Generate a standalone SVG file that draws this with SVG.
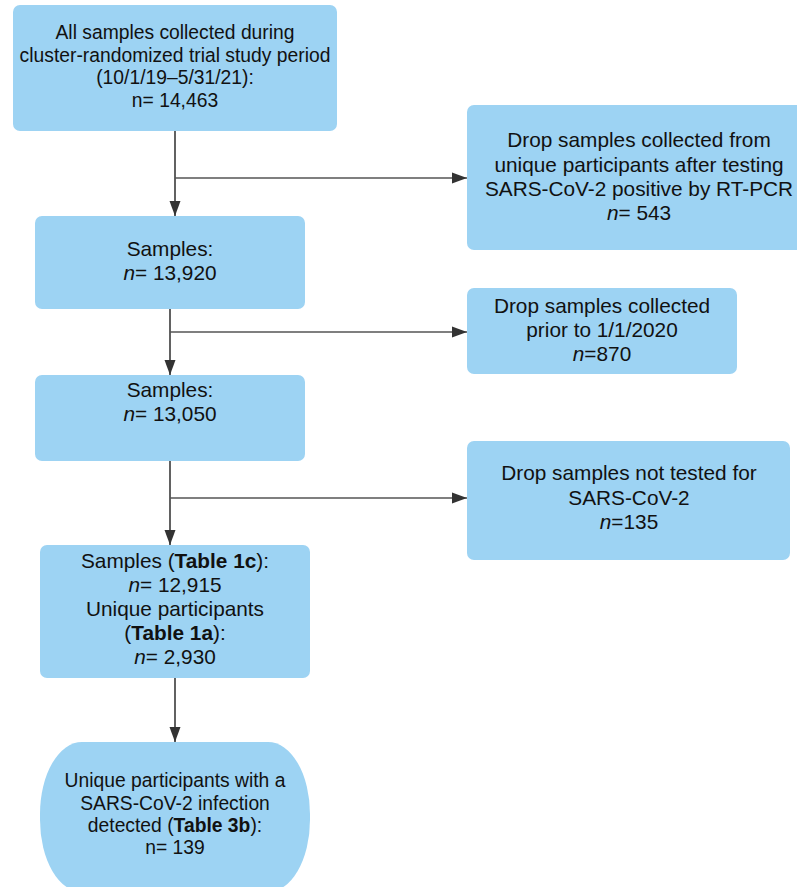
<svg xmlns="http://www.w3.org/2000/svg" width="797" height="887" viewBox="0 0 797 887">
<style>
.box{fill:#9dd3f3;stroke:none}
.t{font-family:"Liberation Sans",Arial,sans-serif;font-size:20.8px;fill:#111;text-anchor:middle}
.s{font-size:19.3px}
.c{fill:none;stroke:#3a3a3a;stroke-width:1.6}
.h{fill:none;stroke:#555;stroke-width:1.3}
</style>
<defs>
<marker id="ah" markerUnits="userSpaceOnUse" markerWidth="16" markerHeight="12" refX="15" refY="6" orient="auto">
<path d="M0,0.5 L15,6 L0,11.5 z" fill="#333"/>
</marker>
</defs>
<rect width="797" height="887" fill="#fff"/>
<g id="connectors">
<line class="c" x1="175" y1="131" x2="175" y2="216" marker-end="url(#ah)"/>
<line class="h" x1="175" y1="178" x2="467" y2="178" marker-end="url(#ah)"/>
<line class="c" x1="170" y1="309" x2="170" y2="375" marker-end="url(#ah)"/>
<line class="h" x1="170" y1="332" x2="467" y2="332" marker-end="url(#ah)"/>
<line class="c" x1="170" y1="461" x2="170" y2="545" marker-end="url(#ah)"/>
<line class="h" x1="170" y1="498" x2="467" y2="498" marker-end="url(#ah)"/>
<line class="c" x1="175" y1="678" x2="175" y2="742" marker-end="url(#ah)"/>
</g>
<g id="n1">
<rect class="box" x="13" y="5" width="324" height="126" rx="7"/>
<text class="t s" x="175" y="38.5">All samples collected during</text>
<text class="t s" x="175" y="61.5">cluster-randomized trial study period</text>
<text class="t s" x="175" y="84">(10/1/19–5/31/21):</text>
<text class="t s" x="175" y="106.5">n= 14,463</text>
</g>
<g id="n2">
<rect class="box" x="467" y="105" width="346" height="145" rx="7"/>
<text class="t" x="639" y="147">Drop samples collected from</text>
<text class="t" x="639" y="171.5">unique participants after testing</text>
<text class="t" x="639" y="196">SARS-CoV-2 positive by RT-PCR</text>
<text class="t" x="639" y="220"><tspan font-style="italic">n</tspan>= 543</text>
</g>
<g id="n3">
<rect class="box" x="35" y="216" width="270" height="93" rx="7"/>
<text class="t" x="170" y="256">Samples:</text>
<text class="t" x="170" y="280"><tspan font-style="italic">n</tspan>= 13,920</text>
</g>
<g id="n4">
<rect class="box" x="467" y="288" width="270" height="86" rx="7"/>
<text class="t" x="602" y="312.5">Drop samples collected</text>
<text class="t" x="602" y="337">prior to 1/1/2020</text>
<text class="t" x="602" y="361"><tspan font-style="italic">n</tspan>=870</text>
</g>
<g id="n5">
<rect class="box" x="35" y="375" width="270" height="86" rx="7"/>
<text class="t" x="170" y="397">Samples:</text>
<text class="t" x="170" y="421"><tspan font-style="italic">n</tspan>= 13,050</text>
</g>
<g id="n6">
<rect class="box" x="467" y="441" width="323" height="119" rx="7"/>
<text class="t" x="629" y="480">Drop samples not tested for</text>
<text class="t" x="629" y="504.5">SARS-CoV-2</text>
<text class="t" x="629" y="528.5"><tspan font-style="italic">n</tspan>=135</text>
</g>
<g id="n7">
<rect class="box" x="40" y="545" width="270" height="133" rx="7"/>
<text class="t" x="175" y="567.5">Samples (<tspan font-weight="bold">Table 1c</tspan>):</text>
<text class="t" x="175" y="592"><tspan font-style="italic">n</tspan>= 12,915</text>
<text class="t" x="175" y="616">Unique participants</text>
<text class="t" x="175" y="640">(<tspan font-weight="bold">Table 1a</tspan>):</text>
<text class="t" x="175" y="664"><tspan font-style="italic">n</tspan>= 2,930</text>
</g>
<g id="n8">
<rect class="box" x="40" y="742" width="270" height="150" rx="42" ry="72"/>
<text class="t s" x="175" y="787">Unique participants with a</text>
<text class="t s" x="175" y="809.5">SARS-CoV-2 infection</text>
<text class="t s" x="175" y="832">detected (<tspan font-weight="bold">Table 3b</tspan>):</text>
<text class="t s" x="175" y="854">n= 139</text>
</g>
</svg>
